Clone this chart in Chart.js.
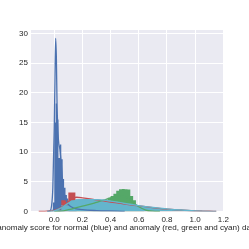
<!DOCTYPE html>
<html>
<head>
<meta charset="utf-8">
<script src="https://cdn.jsdelivr.net/npm/chart.js@4/dist/chart.umd.min.js"></script>
<style>
  html, body { margin: 0; padding: 0; background: #fff; }
  canvas { display: block; }
</style>
</head>
<body>
<canvas id="chart" width="249" height="249"></canvas>
<script>
// Tick labels
const xTicks = [0.0, 0.2, 0.4, 0.6, 0.8, 1.0, 1.2];
const yTicks = [0, 5, 10, 15, 20, 25, 30];
const xTitle = 'anomaly score for normal (blue) and anomaly (red, green and cyan) data';

// Histograms: first bin edge, bin width, bar heights (density)
const blueStart = -0.02, blueWidth = 0.01;
const blueHist = [0.3, 1.5, 15, 18.2, 15.5, 9, 11.3, 8.8, 5.5, 4.0, 2.8, 2.2, 1.5, 1.0, 0.6, 0.4, 0.2, 0.1];

const redStart = 0.0, redWidth = 0.05;
const redHist = [0.3, 1.9, 3.2, 2.0, 1.9, 1.8, 1.7, 1.5, 1.3, 1.2, 1.0, 0.9, 0.7, 0.6, 0.5, 0.4, 0.3, 0.25, 0.2, 0.15, 0.12, 0.1, 0.1];

const greenStart = 0.10, greenWidth = 0.02;
const greenHist = [0.3, 0.4, 0.5, 0.6, 0.7, 0.8, 0.9, 1.0, 1.1, 1.2, 1.3, 1.5, 1.7, 2.0, 2.3, 2.6, 3.0, 3.5, 3.75, 3.8, 3.75, 3.7, 2.6, 1.9, 1.0, 0.5, 0.2];

const cyanStart = 0.0, cyanWidth = 0.05;
const cyanHist = [0.2, 1.05, 1.9, 2.05, 2.0, 1.95, 1.9, 1.85, 1.65, 1.4, 1.2, 1.05, 0.9, 0.75, 0.6, 0.45, 0.35, 0.25, 0.15, 0.1, 0.05];

// KDE curves
const blueKdeX = [-0.05, -0.03, -0.02, -0.01, 0.0, 0.005, 0.01, 0.015, 0.02, 0.03, 0.04, 0.05, 0.06, 0.07, 0.08, 0.1, 0.12, 0.15, 0.2, 0.3, 0.45, 0.5];
const blueKdeY = [0, 0.1, 0.8, 4, 14, 22, 29.2, 26, 18, 12, 10.5, 8, 5, 3.2, 2.2, 1.2, 0.8, 0.5, 0.3, 0.15, 0.05, 0];

const redKdeX = [-0.11, -0.05, 0.0, 0.05, 0.1, 0.13, 0.16, 0.2, 0.3, 0.4, 0.5, 0.6, 0.7, 0.8, 0.9, 1.0, 1.1, 1.15];
const redKdeY = [0, 0.05, 0.2, 0.7, 1.6, 2.2, 2.4, 2.3, 1.95, 1.6, 1.25, 0.95, 0.65, 0.4, 0.25, 0.12, 0.05, 0];

const greenKdeX = [0.0, 0.05, 0.1, 0.15, 0.2, 0.25, 0.3, 0.35, 0.4, 0.45, 0.5, 0.55, 0.6, 0.65, 0.7, 0.75];
const greenKdeY = [0, 0.05, 0.3, 0.6, 0.9, 1.2, 1.55, 1.9, 2.3, 2.6, 2.5, 1.8, 0.8, 0.25, 0.05, 0];

const cyanKdeX = [-0.05, 0.0, 0.05, 0.1, 0.15, 0.2, 0.3, 0.4, 0.5, 0.6, 0.7, 0.8, 0.9, 1.0, 1.1, 1.15];
const cyanKdeY = [0, 0.1, 0.6, 1.4, 1.85, 2.0, 2.0, 1.75, 1.35, 1.0, 0.7, 0.45, 0.25, 0.1, 0.02, 0];

const BLUE = '#4C72B0', RED = '#C44E52', GREEN = '#55A868', CYAN = '#64B5CD';
const FAMILY = '"Liberation Sans", Arial, sans-serif';

function histPoints(start, width, heights) {
  const pts = heights.map((h, i) => ({ x: start + i * width, y: h }));
  pts.push({ x: start + heights.length * width, y: 0 });
  return pts;
}

function kdePoints(xs, ys) {
  return xs.map((x, i) => ({ x: x, y: ys[i] }));
}

function histSet(pts, color, order) {
  return {
    data: pts,
    stepped: 'before',
    fill: 'origin',
    backgroundColor: color,
    borderWidth: 0,
    pointRadius: 0,
    order: order
  };
}

function kdeSet(pts, color, order) {
  return {
    data: pts,
    fill: false,
    borderColor: color,
    borderWidth: 1.3,
    cubicInterpolationMode: 'monotone',
    pointRadius: 0,
    order: order
  };
}

const plotBg = {
  id: 'plotBg',
  beforeDraw(chart) {
    const { ctx, chartArea } = chart;
    ctx.save();
    ctx.fillStyle = '#EAEAF2';
    ctx.fillRect(chartArea.left, chartArea.top, chartArea.right - chartArea.left, chartArea.bottom - chartArea.top);
    ctx.restore();
  }
};

// axis label drawn without the maxWidth squeeze, so it runs off the canvas like the original
const xLabel = {
  id: 'xLabel',
  afterDraw(chart) {
    const { ctx, chartArea } = chart;
    ctx.save();
    ctx.font = '8.1px ' + FAMILY;
    ctx.fillStyle = '#262626';
    ctx.textAlign = 'center';
    ctx.textBaseline = 'middle';
    ctx.fillText(xTitle, (chartArea.left + chartArea.right) / 2, 228);
    ctx.restore();
  }
};

const tickFont = { family: FAMILY, size: 8 };

new Chart(document.getElementById('chart'), {
  type: 'line',
  data: {
    datasets: [
      histSet(histPoints(blueStart, blueWidth, blueHist), BLUE, 8),
      histSet(histPoints(redStart, redWidth, redHist), RED, 7),
      histSet(histPoints(greenStart, greenWidth, greenHist), GREEN, 6),
      histSet(histPoints(cyanStart, cyanWidth, cyanHist), CYAN, 5),
      kdeSet(kdePoints(blueKdeX, blueKdeY), BLUE, 4),
      kdeSet(kdePoints(redKdeX, redKdeY), RED, 3),
      kdeSet(kdePoints(greenKdeX, greenKdeY), GREEN, 2),
      kdeSet(kdePoints(cyanKdeX, cyanKdeY), CYAN, 1)
    ]
  },
  options: {
    responsive: false,
    animation: false,
    devicePixelRatio: 1,
    layout: { padding: { top: 30, right: 25, left: 0, bottom: 0 } },
    plugins: {
      legend: { display: false },
      tooltip: { enabled: false }
    },
    scales: {
      x: {
        type: 'linear',
        min: -0.165,
        max: 1.205,
        afterBuildTicks: function(scale) {
          scale.ticks = xTicks.map(v => ({ value: v }));
        },
        afterFit: function(scale) { scale.height = 37.5; },
        grid: { color: '#ffffff', lineWidth: 1, drawTicks: false },
        border: { display: false },
        ticks: {
          padding: 3,
          color: '#262626',
          font: tickFont,
          maxRotation: 0,
          callback: function(value) { return Number(value).toFixed(1); }
        }
      },
      y: {
        min: 0,
        max: 30.6,
        afterBuildTicks: function(scale) {
          scale.ticks = yTicks.map(v => ({ value: v }));
        },
        afterFit: function(scale) { scale.width = 31; },
        grid: { color: '#ffffff', lineWidth: 1, drawTicks: false },
        border: { display: false },
        ticks: {
          padding: 3,
          color: '#262626',
          font: tickFont
        }
      }
    }
  },
  plugins: [plotBg, xLabel]
});
</script>
</body>
</html>
